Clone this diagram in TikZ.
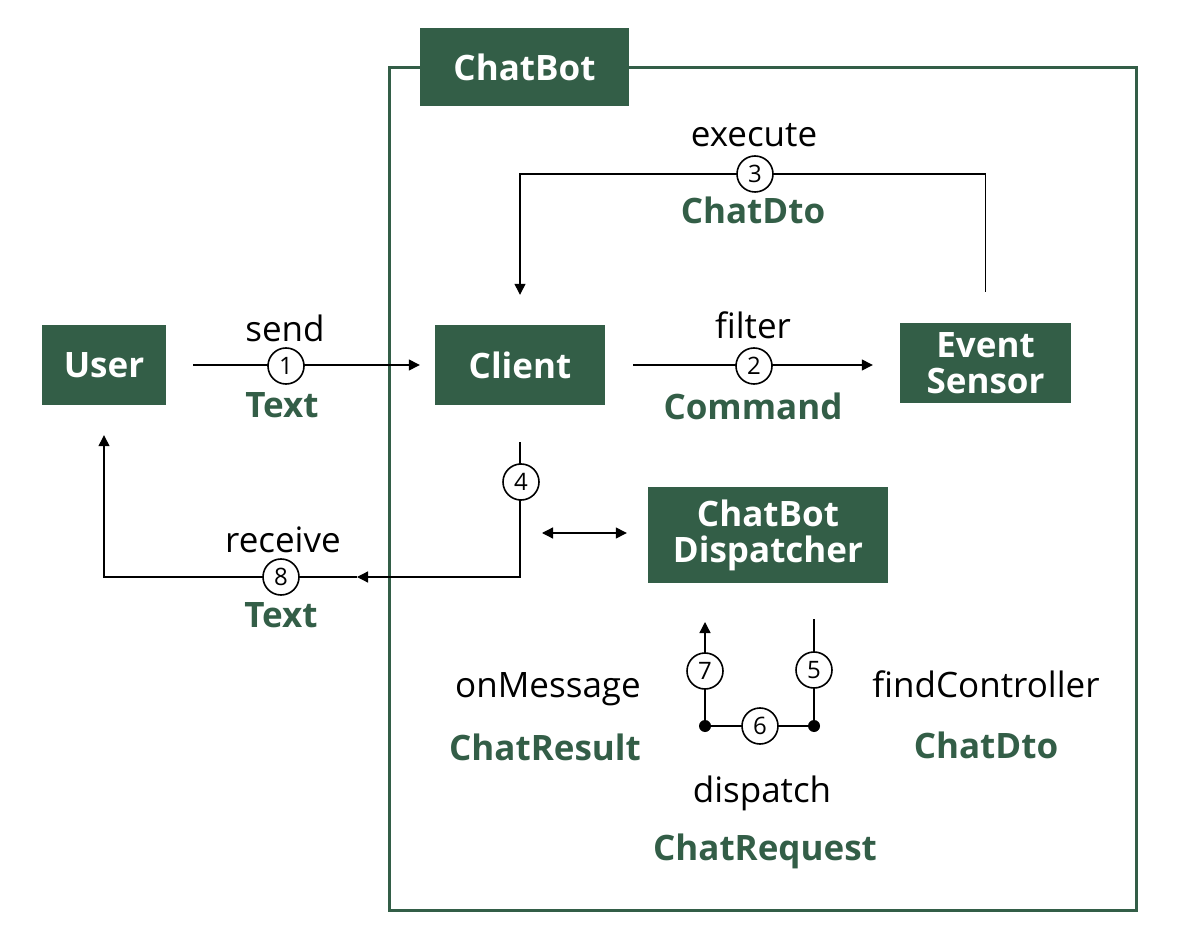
\documentclass[tikz,border=0pt]{standalone}
\usepackage{fontspec}
\setmainfont{Open Sans}
\usetikzlibrary{arrows.meta}
\definecolor{botgreen}{RGB}{51,94,71}
\tikzset{
  block/.style={fill=botgreen, text=white, align=center, inner sep=0pt,
    font=\bfseries\fontsize{35}{36}\selectfont},
  flow/.style={line width=1.3pt, -{Triangle[length=11pt,width=11pt]}},
  stepnum/.style={circle, draw, line width=1.6pt, fill=white, minimum size=36pt,
    inner sep=0pt, font=\fontsize{24}{24}\selectfont},
  verb/.style={anchor=base, font=\fontsize{35}{40}\selectfont},
  dtype/.style={anchor=base, text=botgreen, font=\bfseries\fontsize{35}{40}\selectfont},
  joint/.style={circle, fill, inner sep=0pt, minimum size=12pt}
}

\begin{document}
\begin{tikzpicture}[x=1pt, y=-1pt]
    \useasboundingbox (0,0) rectangle (1200,949);
    % Draw the ChatBot frame and its tab
    \draw[botgreen, line width=3pt] (389,68) rectangle (1136,910);
    \node[block, minimum width=209pt, minimum height=78pt] (chatbot) at (524.5,67) {ChatBot};
    % Draw the blocks
    \node[block, minimum width=124pt, minimum height=80pt] (user) at (104,365) {User};
    \node[block, minimum width=170pt, minimum height=80pt] (client) at (520,365) {Client};
    \node[block, minimum width=171pt, minimum height=80pt] (sensor) at (985.5,363) {Event\\Sensor};
    \node[block, minimum width=240pt, minimum height=96pt] (dispatcher) at (768,535) {ChatBot\\Dispatcher};
    % Free ends and bends
    \coordinate (execTop) at (755,174);
    \coordinate (recvTip) at (357,577);
    \coordinate (swapL) at (542,533);
    \coordinate (findTop) at (814,619);
    \coordinate (findJoint) at (814,726);
    \coordinate (msgJoint) at (705,726);
    \coordinate (msgTop) at (705,622);
    % Draw connectors
    \draw[flow, shorten <=27pt, shorten >=15pt] (user) -- (client);
    \draw[flow, shorten <=28pt, shorten >=27pt] (client.east) -- (client.east -| sensor.west);
    \draw[flow, shorten <=31pt, shorten >=30pt] (sensor.north) |- (execTop) -| (client.north);
    \draw[flow, shorten <=37pt] (client.south) |- (recvTip);
    \draw[flow, shorten >=30pt] (recvTip) -| (user.south);
    \draw[flow, {Triangle[length=11pt,width=11pt]}-{Triangle[length=11pt,width=11pt]}, shorten >=21pt]
      (swapL) -- (swapL -| dispatcher.west);
    \draw[flow] (findTop) -- (findJoint) -- (msgJoint) -- (msgTop);
    \node[joint] (j1) at (findJoint) {};
    \node[joint] (j2) at (msgJoint) {};
    % Draw step numbers
    \foreach \n/\x/\y in {1/286/366, 2/754/366, 3/755/174, 4/521/482,
                          5/814/670, 6/760/726, 7/705/671, 8/281/577} {
      \node[stepnum] (s\n) at (\x,\y) {\n};
    }
    % Labels
    \node[verb] (execute) at (754,147) {execute};
    \node[dtype] (dto1) at (753,224) {ChatDto};
    \node[verb] (send) at (285,342) {send};
    \node[dtype] (text1) at (282,418) {Text};
    \node[verb] (filter) at (753,339) {filter};
    \node[dtype] (command) at (753,420) {Command};
    \node[verb] (receive) at (283,552) {receive};
    \node[dtype] (text2) at (281,627) {Text};
    \node[verb] (onmsg) at (548,697) {onMessage};
    \node[dtype] (result) at (545,760) {ChatResult};
    \node[verb] (findctl) at (986,697) {findController};
    \node[dtype] (dto2) at (986,758) {ChatDto};
    \node[verb] (dispatch) at (762,802) {dispatch};
    \node[dtype] (request) at (765,860) {ChatRequest};
  \end{tikzpicture}
\end{document}
